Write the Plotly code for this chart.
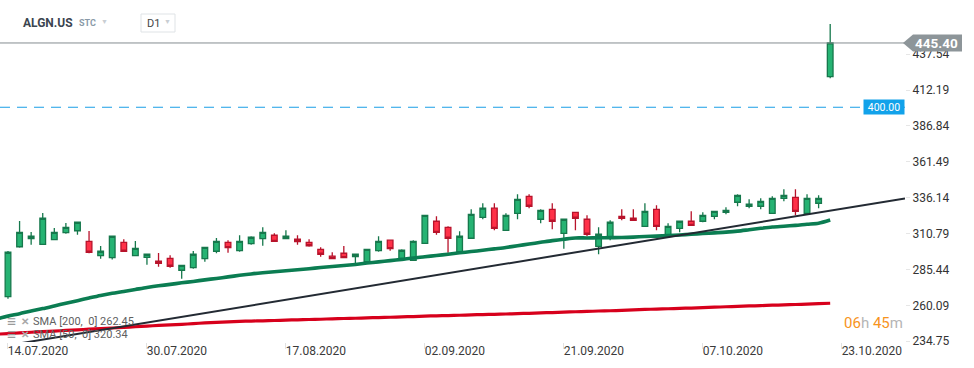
import plotly.graph_objects as go

# ---------------- data ----------------
trading_days = [
    "13.07.2020", "14.07.2020", "15.07.2020", "16.07.2020", "17.07.2020", "20.07.2020", "21.07.2020",
    "22.07.2020", "23.07.2020", "24.07.2020", "27.07.2020", "28.07.2020", "29.07.2020", "30.07.2020",
    "31.07.2020", "03.08.2020", "04.08.2020", "05.08.2020", "06.08.2020", "07.08.2020", "10.08.2020",
    "11.08.2020", "12.08.2020", "13.08.2020", "14.08.2020", "17.08.2020", "18.08.2020", "19.08.2020",
    "20.08.2020", "21.08.2020", "24.08.2020", "25.08.2020", "26.08.2020", "27.08.2020", "28.08.2020",
    "31.08.2020", "01.09.2020", "02.09.2020", "03.09.2020", "04.09.2020", "08.09.2020", "09.09.2020",
    "10.09.2020", "11.09.2020", "14.09.2020", "15.09.2020", "16.09.2020", "17.09.2020", "18.09.2020",
    "21.09.2020", "22.09.2020", "23.09.2020", "24.09.2020", "25.09.2020", "28.09.2020", "29.09.2020",
    "30.09.2020", "01.10.2020", "02.10.2020", "05.10.2020", "06.10.2020", "07.10.2020", "08.10.2020",
    "09.10.2020", "12.10.2020", "13.10.2020", "14.10.2020", "15.10.2020", "16.10.2020", "19.10.2020",
    "20.10.2020", "21.10.2020", "22.10.2020", "23.10.2020",
]
candle_dates = trading_days[1:73]

opens = [266.2, 301.5, 307.2, 303.2, 306.5, 311.4, 312.8, 305.3, 295.2, 293.8,
         304.6, 295.2, 294.0, 291.4, 293.3, 284.9, 286.7, 293.1, 298.3, 304.6,
         298.7, 303.7, 307.2, 309.6, 307.2, 306.8, 304.6, 299.7, 294.8, 296.9,
         294.5, 290.9, 298.7, 306.1, 292.6, 291.9, 303.9, 319.5, 315.2, 298.0,
         307.5, 322.3, 328.7, 313.1, 325.1, 337.1, 320.9, 327.9, 311.0, 325.8,
         320.9, 301.8, 307.5, 323.0, 321.6, 315.9, 327.9, 308.9, 314.5, 319.5,
         319.5, 323.0, 325.8, 332.9, 330.1, 330.1, 325.1, 335.7, 336.4, 325.1,
         332.2, 421.6]
highs = [298.5, 319.7, 311.9, 325.3, 314.7, 318.3, 319.0, 312.6, 302.0, 309.1,
         306.8, 305.6, 296.4, 297.1, 295.5, 288.6, 298.5, 301.3, 307.7, 306.1,
         309.6, 308.9, 315.2, 311.0, 313.1, 309.6, 306.8, 301.1, 297.6, 302.0,
         296.4, 299.9, 308.9, 306.3, 299.7, 306.1, 323.9, 323.0, 315.9, 312.4,
         327.9, 332.2, 332.2, 325.1, 338.5, 338.5, 327.9, 332.2, 321.1, 326.0,
         323.7, 315.2, 320.2, 327.9, 327.9, 332.2, 330.8, 318.1, 319.7, 326.5,
         325.8, 326.7, 329.4, 338.5, 335.0, 335.7, 337.1, 342.1, 342.1, 338.5,
         337.8, 458.8]
lows = [264.8, 300.8, 302.9, 303.0, 306.3, 310.7, 310.0, 296.9, 293.1, 292.4,
        298.0, 294.9, 288.8, 287.4, 286.7, 278.9, 286.0, 290.9, 296.9, 297.3,
        298.0, 302.9, 302.2, 305.1, 307.0, 302.9, 301.5, 294.5, 292.9, 293.6,
        288.1, 290.7, 298.0, 298.7, 292.4, 291.7, 303.7, 310.0, 297.3, 297.3,
        307.2, 320.9, 313.1, 312.9, 320.9, 328.7, 318.1, 313.8, 300.1, 313.1,
        308.9, 296.2, 306.1, 320.2, 320.0, 315.7, 313.1, 308.6, 311.7, 316.4,
        318.8, 320.9, 324.4, 330.1, 328.7, 327.9, 324.9, 333.6, 323.7, 324.9,
        328.7, 420.5]
closes = [297.6, 311.7, 308.9, 321.6, 311.7, 315.2, 318.8, 297.6, 298.3, 308.9,
          298.3, 300.4, 296.2, 289.8, 287.7, 288.4, 296.2, 301.1, 305.3, 300.8,
          305.3, 308.2, 311.7, 305.3, 308.9, 305.1, 302.2, 296.2, 293.1, 293.8,
          296.2, 299.7, 305.3, 300.1, 299.0, 305.3, 323.7, 311.7, 307.5, 308.9,
          324.4, 328.7, 314.5, 323.7, 335.0, 330.1, 327.2, 319.5, 320.9, 321.6,
          310.3, 310.3, 318.8, 321.6, 320.2, 326.5, 315.9, 315.9, 319.5, 316.6,
          323.7, 326.5, 327.2, 337.8, 331.5, 333.6, 335.7, 337.8, 326.5, 335.7,
          335.7, 445.4]

sma_dates = trading_days[0:73]
sma50 = [250.5, 252.5, 254.2, 256.1, 257.8, 259.7, 261.6, 263.4, 265.3, 267.1,
         268.6, 269.9, 271.3, 272.7, 273.9, 274.9, 276.0, 277.0, 278.1, 279.1,
         280.2, 281.3, 282.3, 283.1, 283.8, 284.5, 285.3, 286.0, 286.8, 287.5,
         288.2, 289.0, 290.0, 290.8, 291.7, 292.6, 293.6, 294.4, 295.3, 296.2,
         297.2, 298.1, 299.0, 300.0, 301.0, 302.2, 303.4, 304.6, 305.8, 306.8,
         307.7, 307.7, 307.8, 307.9, 308.0, 308.3, 308.7, 309.0, 309.4, 309.8,
         310.3, 310.8, 311.3, 311.8, 312.5, 313.5, 314.5, 315.4, 316.0, 316.6,
         317.4, 318.1, 320.34]
sma200 = [239.7, 240.2, 240.6, 241.1, 241.5, 241.9, 242.4, 242.8, 243.3, 243.7,
          244.1, 244.5, 245.0, 245.5, 245.9, 246.3, 246.7, 247.2, 247.7, 248.1,
          248.5, 248.8, 249.0, 249.2, 249.4, 249.7, 249.9, 250.1, 250.3, 250.6,
          250.8, 251.0, 251.3, 251.5, 251.7, 252.0, 252.2, 252.5, 252.7, 252.9,
          253.1, 253.4, 253.6, 253.8, 254.0, 254.3, 254.5, 254.8, 255.0, 255.3,
          255.6, 255.8, 256.1, 256.3, 256.6, 256.9, 257.2, 257.5, 257.7, 258.0,
          258.2, 258.5, 258.8, 259.1, 259.4, 259.7, 259.9, 260.2, 260.4, 260.7,
          261.0, 261.3, 261.6]

trend_dates = ["14.07.2020", "22.10.2020"]
trend_prices = [231.9, 327.0]

price_ticks = [234.75, 260.09, 285.44, 310.79, 336.14, 361.49, 386.84, 412.19, 437.54]
date_ticks = ["14.07.2020", "30.07.2020", "17.08.2020", "02.09.2020",
              "21.09.2020", "07.10.2020", "23.10.2020"]

last_price = 445.40
alert_price = 400.00
symbol = "ALGN.US"
symbol_type = "STC"
interval = "D1"
sma200_label = "SMA [200,\u00a0 0] 262.45"
sma50_label = "SMA [50,\u00a0 0] 320.34"
countdown_h, countdown_m = "06", "45"

# ---------------- figure ----------------
pos = {d: i for i, d in enumerate(trading_days)}
X_RANGE = [0.31, 78.46]
Y_RANGE = [234.22, 475.75]
FONT = "Roboto"

fig = go.Figure()

fig.add_trace(go.Scatter(
    x=[pos[d] for d in sma_dates], y=sma200, mode="lines",
    line=dict(color="#d7001c", width=3.2, shape="spline", smoothing=0.6),
    hoverinfo="skip", showlegend=False))
fig.add_trace(go.Scatter(
    x=[pos[d] for d in sma_dates], y=sma50, mode="lines",
    line=dict(color="#0b7d52", width=3.6, shape="spline", smoothing=0.8),
    hoverinfo="skip", showlegend=False))

# trend ray: through the two anchors, extended to the right edge of the view
tx0, tx1 = pos[trend_dates[0]], pos[trend_dates[1]]
slope = (trend_prices[1] - trend_prices[0]) / (tx1 - tx0)
x_end = X_RANGE[1]
fig.add_trace(go.Scatter(
    x=[tx0, x_end], y=[trend_prices[0], trend_prices[0] + slope * (x_end - tx0)],
    mode="lines", line=dict(color="#232a33", width=2), hoverinfo="skip", showlegend=False))

fig.add_trace(go.Candlestick(
    x=[pos[d] for d in candle_dates], open=opens, high=highs, low=lows, close=closes,
    increasing=dict(line=dict(color="#16784c", width=1.3), fillcolor="#26b373"),
    decreasing=dict(line=dict(color="#b8132b", width=1.3), fillcolor="#ff3148"),
    whiskerwidth=0, hoverinfo="skip", showlegend=False))

span = Y_RANGE[1] - Y_RANGE[0]
last_yp = (last_price - Y_RANGE[0]) / span

shapes = [
    dict(type="line", xref="paper", yref="y", x0=0, x1=1, y0=last_price, y1=last_price,
         line=dict(color="#858c90", width=1)),
    dict(type="line", xref="paper", yref="y", x0=0, x1=1, y0=alert_price, y1=alert_price,
         line=dict(color="#1a9fe6", width=1, dash="10px,7px")),
    dict(type="path", xref="paper", yref="paper", xsizemode="pixel", ysizemode="pixel",
         xanchor=1, yanchor=last_yp,
         path="M -2 0 L 8 8.5 L 57 8.5 L 57 -8.5 L 8 -8.5 Z",
         fillcolor="#8d9599", line=dict(width=0), layer="above"),
    dict(type="rect", xref="paper", yref="paper", xsizemode="pixel", ysizemode="pixel",
         xanchor=0, yanchor=1, x0=141, x1=175, y0=-14, y1=-32,
         fillcolor="white", line=dict(color="#dfe3e6", width=1)),
]

ann = []
def txt(text, x, y, size, color, xanchor="left", xref="paper", yref="paper",
        xshift=0, yshift=0, **kw):
    ann.append(dict(text=text, x=x, y=y, xref=xref, yref=yref, xanchor=xanchor,
                    yanchor="middle", xshift=xshift, yshift=yshift, showarrow=False,
                    font=dict(family=FONT, size=size, color=color), **kw))

# price tag & alert label
txt("<b>%.2f</b>" % last_price, 1, last_yp, 13.5, "white", xanchor="center", xshift=31)
txt("%.2f" % alert_price, 1, alert_price, 10.5, "white", xanchor="right", yref="y",
    bgcolor="#12a2ea", width=38, height=12, borderpad=1)

# header
txt("<b>%s</b>" % symbol, 0, 1, 12, "#3b4550", xshift=21, yshift=-23)
txt("<b>%s</b>" % symbol_type, 0, 1, 9, "#8a9aa8", xshift=77, yshift=-23)
txt("▼", 0, 1, 7, "#c9ced3", xshift=99, yshift=-22)
txt(interval, 0, 1, 11, "#444", xshift=145, yshift=-23)
txt("▼", 0, 1, 7, "#c9ced3", xshift=162, yshift=-22)

# indicator legend
for label, yy in ((sma200_label, -321.7), (sma50_label, -334.3)):
    txt("<b>≡</b>", 0, 1, 16, "#9a9a9a", xshift=5, yshift=yy)
    txt("<b>✕</b>", 0, 1, 10, "#a8a8a8", xshift=19, yshift=yy)
    txt(label, 0, 1, 11, "#606060", xshift=31, yshift=yy)

# countdown
txt("<span style='color:#f7941d'>%s</span><span style='color:#b5b5b5'>h</span> "
    "<span style='color:#f7941d'>%s</span><span style='color:#b5b5b5'>m</span>"
    % (countdown_h, countdown_m), 1, 1, 15, "#f7941d", xanchor="right", yshift=-323)

fig.update_layout(
    width=974, height=368,
    margin=dict(l=0, r=69, t=0, b=26),
    paper_bgcolor="white", plot_bgcolor="white",
    showlegend=False,
    shapes=shapes, annotations=ann,
    font=dict(family=FONT),
    xaxis=dict(range=X_RANGE, tickvals=[pos[d] for d in date_ticks], ticktext=date_ticks,
               showgrid=False, zeroline=False, showline=False,
               ticks="outside", ticklen=6, tickcolor="#e2e2e2", tickwidth=1,
               tickfont=dict(family=FONT, size=12, color="#3a3a3a"),
               ticklabelshift=30, ticklabelstandoff=-8,
               rangeslider=dict(visible=False), fixedrange=True),
    yaxis=dict(range=Y_RANGE, side="right", tickvals=price_ticks,
               ticktext=["%.2f" % v for v in price_ticks],
               showgrid=False, zeroline=False, showline=False,
               ticks="outside", ticklen=4, tickcolor="#e6e6e6",
               tickfont=dict(family=FONT, size=12, color="#333"), fixedrange=True),
)

fig.write_html("out.html", config={"displayModeBar": False},
               post_script="document.body.style.margin='0px';document.body.style.overflow='hidden';")
